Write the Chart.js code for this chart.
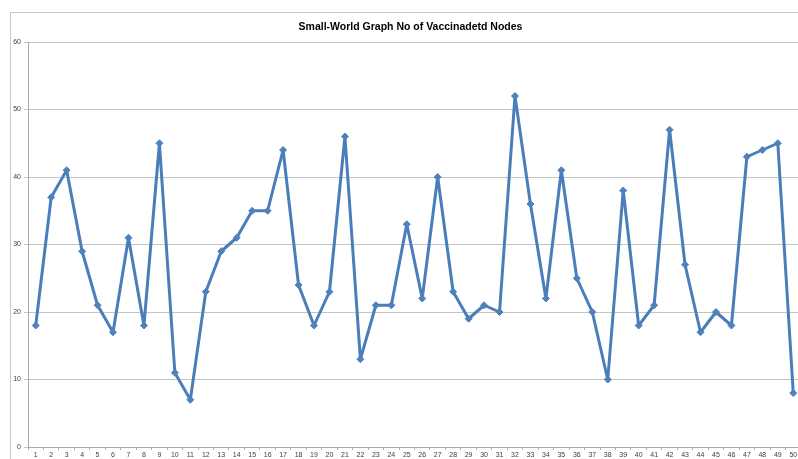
<!DOCTYPE html>
<html>
<head>
<meta charset="utf-8">
<script src="https://cdn.jsdelivr.net/npm/chart.js@4/dist/chart.umd.min.js"></script>
<style>
  html, body { margin: 0; padding: 0; background: #ffffff; overflow: hidden; }
  #wrap { width: 798px; height: 459px; position: relative; overflow: hidden; }
</style>
</head>
<body>
<div id="wrap"><canvas id="chart" width="802" height="459"></canvas></div>
<script>
// Run index (1..50) and number of vaccinated nodes per run
const runs = Array.from({ length: 50 }, (_, i) => String(i + 1));
const vaccinatedNodes = [
  18, 37, 41, 29, 21, 17, 31, 18, 45, 11,
   7, 23, 29, 31, 35, 35, 44, 24, 18, 23,
  46, 13, 21, 21, 33, 22, 40, 23, 19, 21,
  20, 52, 36, 22, 41, 25, 20, 10, 38, 18,
  21, 47, 27, 17, 20, 18, 43, 44, 45,  8
];
const yTicks = [0, 10, 20, 30, 40, 50, 60];
const chartTitle = 'Small-World Graph No of Vaccinadetd Nodes';

// Frame around the chart and the title centred over the plot area
const framePlugin = {
  id: 'frame',
  beforeDraw(chart) {
    const ctx = chart.ctx;
    ctx.save();
    ctx.strokeStyle = '#c8c8c8';
    ctx.lineWidth = 1;
    ctx.strokeRect(10.5, 12.5, 900, 900);
    ctx.restore();
  },
  afterDraw(chart) {
    const ctx = chart.ctx;
    const area = chart.chartArea;
    ctx.save();
    ctx.fillStyle = '#000000';
    ctx.font = 'bold 10.5px "Liberation Sans", Arial, sans-serif';
    ctx.textAlign = 'center';
    ctx.textBaseline = 'middle';
    ctx.fillText(chartTitle, (area.left + area.right) / 2 - 4, 27);
    ctx.restore();
  }
};

new Chart(document.getElementById('chart'), {
  type: 'line',
  data: {
    labels: runs,
    datasets: [{
      data: vaccinatedNodes,
      borderColor: '#4a7ebb',
      borderWidth: 3,
      borderJoinStyle: 'round',
      borderCapStyle: 'round',
      tension: 0,
      pointStyle: 'rectRot',
      pointRadius: 3.5,
      pointBackgroundColor: '#4f81bd',
      pointBorderColor: '#4f81bd',
      pointBorderWidth: 1
    }]
  },
  options: {
    responsive: false,
    animation: false,
    layout: { autoPadding: false, padding: { top: 42, right: 1, bottom: 0, left: 0 } },
    plugins: {
      legend: { display: false },
      title: { display: false },
      tooltip: { enabled: false }
    },
    scales: {
      x: {
        offset: true,
        grid: {
          offset: true,
          drawOnChartArea: false,
          drawTicks: true,
          tickLength: 3,
          color: '#b0b0b0'
        },
        border: { color: '#a8a8a8', width: 1 },
        ticks: {
          autoSkip: false,
          maxRotation: 0,
          padding: 1,
          color: '#404040',
          font: { size: 7, family: '"Liberation Sans", Arial, sans-serif' }
        },
        afterFit(scale) {
          scale.height = 12;
          scale.paddingLeft = 0;
          scale.paddingRight = 0;
        }
      },
      y: {
        min: 0,
        max: 60,
        afterBuildTicks(scale) { scale.ticks = yTicks.map(v => ({ value: v })); },
        grid: {
          color: '#c4c4c4',
          lineWidth: 1,
          tickLength: 4
        },
        border: { color: '#a8a8a8', width: 1 },
        ticks: {
          padding: 3,
          color: '#404040',
          font: { size: 7, family: '"Liberation Sans", Arial, sans-serif' }
        },
        afterFit(scale) { scale.width = 28; }
      }
    }
  },
  plugins: [framePlugin]
});
</script>
</body>
</html>
